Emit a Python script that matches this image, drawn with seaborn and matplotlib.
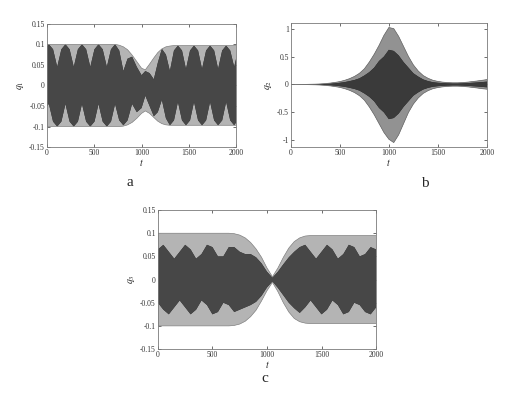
import pandas as pd
import matplotlib
matplotlib.use("Agg")
import matplotlib.pyplot as plt
import seaborn as sns


# -----------------------------
# DATA (envelopes)
# -----------------------------
x_ticks = [0, 500, 1000, 1500, 2000]
x_tick_labels = ["0", "500", "1000", "1500", "2000"]

small_ticks = [-0.15, -0.1, -0.05, 0, 0.05, 0.1, 0.15]
small_tick_labels = ["-0.15", "-0.1", "-0.05", "0", "0.05", "0.1", "0.15"]
big_ticks = [-1, -0.5, 0, 0.5, 1]
big_tick_labels = ["-1", "-0.5", "0", "0.5", "1"]

# panel a: q1
t_a = [0, 20, 64, 108, 152, 195, 239, 283, 327, 370, 414, 458, 502, 545, 589,
       633, 677, 720, 764, 808, 852, 900, 950, 1000, 1040, 1085, 1130, 1172,
       1215, 1258, 1300, 1343, 1385, 1428, 1470, 1513, 1555, 1598, 1640, 1683,
       1725, 1768, 1810, 1853, 1895, 1938, 1980, 2000]
q1_up = [0.1] * 18 + [0.098, 0.094, 0.087, 0.074, 0.058, 0.042, 0.038, 0.052,
                      0.067, 0.08, 0.089, 0.094, 0.096] + [0.097] * 17
q1_lo = [-0.1] * 19 + [-0.099, -0.096, -0.09, -0.08, -0.068, -0.062, -0.068,
                       -0.078, -0.087, -0.093, -0.096, -0.097] + [-0.097] * 17
q1_dark_up = [0.095, 0.1, 0.088, 0.045, 0.088, 0.1, 0.088, 0.045, 0.088, 0.1,
              0.088, 0.045, 0.088, 0.1, 0.088, 0.045, 0.088, 0.1, 0.085, 0.035,
              0.065, 0.07, 0.045, 0.025, 0.035, 0.03, 0.015, 0.055, 0.089, 0.075,
              0.035, 0.085, 0.097, 0.085, 0.04, 0.085, 0.097, 0.085, 0.04, 0.085,
              0.097, 0.085, 0.04, 0.085, 0.097, 0.085, 0.045, 0.065]
q1_dark_lo = [-0.05, -0.045, -0.088, -0.1, -0.088, -0.045, -0.088, -0.1, -0.088,
              -0.045, -0.088, -0.1, -0.088, -0.045, -0.088, -0.1, -0.088, -0.045,
              -0.085, -0.097, -0.085, -0.045, -0.065, -0.055, -0.025, -0.05,
              -0.075, -0.065, -0.035, -0.08, -0.097, -0.085, -0.04, -0.085,
              -0.097, -0.085, -0.04, -0.085, -0.097, -0.085, -0.04, -0.085,
              -0.097, -0.085, -0.04, -0.085, -0.097, -0.09]

# panel b: q2  (t every 50)
t_b = list(range(0, 2001, 50))
q2_up = [0.0, 0.0, 0.001, 0.002, 0.004, 0.006, 0.01, 0.016, 0.025, 0.037,
         0.052, 0.075, 0.105, 0.145, 0.2, 0.28, 0.4, 0.54, 0.7, 0.88,
         1.02, 1.0, 0.86, 0.68, 0.5, 0.35, 0.24, 0.16, 0.11, 0.075,
         0.055, 0.042, 0.034, 0.03, 0.03, 0.034, 0.042, 0.052, 0.063, 0.075,
         0.088]
q2_lo = [0.0, 0.0, -0.001, -0.002, -0.004, -0.006, -0.01, -0.016, -0.025, -0.037,
         -0.052, -0.075, -0.105, -0.145, -0.2, -0.28, -0.4, -0.54, -0.7, -0.86,
         -0.98, -1.04, -0.9, -0.7, -0.5, -0.35, -0.24, -0.16, -0.11, -0.075,
         -0.055, -0.042, -0.034, -0.03, -0.03, -0.034, -0.042, -0.052, -0.063,
         -0.075, -0.085]
q2_dark = [0.0, 0.0, 0.0005, 0.001, 0.002, 0.003, 0.006, 0.009, 0.014, 0.02,
           0.03, 0.042, 0.06, 0.08, 0.11, 0.16, 0.22, 0.3, 0.42, 0.5,
           0.62, 0.6, 0.52, 0.4, 0.3, 0.2, 0.14, 0.09, 0.06, 0.04,
           0.03, 0.024, 0.019, 0.017, 0.017, 0.019, 0.024, 0.03, 0.036, 0.043,
           0.05]

# panel c: q3  (t every 50)
t_c = list(range(0, 2001, 50))
q3_up = [0.1] * 14 + [0.099, 0.096, 0.09, 0.08, 0.066, 0.048, 0.025, 0.006,
                      0.025, 0.048, 0.068, 0.082, 0.09, 0.094] + [0.095] * 13
q3_lo = [-0.1] * 14 + [-0.099, -0.096, -0.09, -0.08, -0.066, -0.046, -0.024,
                       -0.006, -0.026, -0.05, -0.07, -0.084, -0.091,
                       -0.094] + [-0.095] * 13
q3_dark_up = [0.065, 0.075, 0.06, 0.045, 0.06, 0.075, 0.065, 0.045, 0.055,
              0.075, 0.07, 0.05, 0.05, 0.07, 0.07, 0.06, 0.055, 0.055, 0.048,
              0.035, 0.017, 0.004, 0.017, 0.033, 0.048, 0.06, 0.07, 0.075,
              0.06, 0.045, 0.06, 0.075, 0.065, 0.045, 0.055, 0.075, 0.07,
              0.05, 0.055, 0.07, 0.065]
q3_dark_lo = [-0.05, -0.065, -0.075, -0.06, -0.045, -0.06, -0.075, -0.065,
              -0.045, -0.055, -0.075, -0.07, -0.05, -0.055, -0.07, -0.065,
              -0.06, -0.055, -0.048, -0.035, -0.017, -0.004, -0.018, -0.034,
              -0.05, -0.062, -0.072, -0.06, -0.045, -0.06, -0.075, -0.065,
              -0.045, -0.055, -0.075, -0.07, -0.05, -0.055, -0.07, -0.075,
              -0.06]


# -----------------------------
# STYLE
# -----------------------------
sns.set_style("ticks")
plt.rcParams["font.family"] = ["Liberation Serif", "DejaVu Serif"]
plt.rcParams["mathtext.fontset"] = "stix"
plt.rcParams["hatch.linewidth"] = 0.35


def draw_signal(ax, t, up, lo, dark_up, dark_lo, light="#8c8c8c",
                light_hatch="#b4b4b4", dark="#2c2c2c", dark_hatch="#474747"):
    df = pd.DataFrame({"t": t, "up": up, "lo": lo,
                       "dup": dark_up, "dlo": dark_lo})
    ax.fill_between(df["t"], df["lo"], df["up"], facecolor=light,
                    edgecolor=light_hatch, hatch="|" * 40, linewidth=0)
    ax.fill_between(df["t"], df["dlo"], df["dup"], facecolor=dark,
                    edgecolor=dark_hatch, hatch="|" * 40, linewidth=0)
    sns.lineplot(data=df, x="t", y="up", ax=ax, color=light, lw=0.5)
    sns.lineplot(data=df, x="t", y="lo", ax=ax, color=light, lw=0.5)


def style_axes(ax, ylim, yticks, ylabels, ylabel):
    ax.set_xlim(0, 2000)
    ax.set_ylim(*ylim)
    ax.set_xticks(x_ticks)
    ax.set_xticklabels(x_tick_labels)
    ax.set_yticks(yticks)
    ax.set_yticklabels(ylabels)
    ax.tick_params(direction="in", top=True, right=True, length=2.5,
                   width=0.5, labelsize=5.5, pad=1.5, colors="#333333")
    for s in ax.spines.values():
        s.set_color("#7a7a7a")
        s.set_linewidth(0.6)
    ax.set_xlabel("$t$", fontsize=7, labelpad=0)
    ax.set_ylabel(ylabel, fontsize=7, labelpad=2)


fig = plt.figure(figsize=(5.11, 4.04), dpi=100)

ax_a = fig.add_axes([0.092, 0.636, 0.370, 0.305])
draw_signal(ax_a, t_a, q1_up, q1_lo, q1_dark_up, q1_dark_lo)
style_axes(ax_a, (-0.15, 0.15), small_ticks, small_tick_labels, "$q_1$")

ax_b = fig.add_axes([0.569, 0.636, 0.384, 0.307])
draw_signal(ax_b, t_b, q2_up, q2_lo, q2_dark, [-v for v in q2_dark],
            light="#6e6e6e", light_hatch="#929292",
            dark="#1e1e1e", dark_hatch="#3a3a3a")
style_axes(ax_b, (-1.12, 1.1), big_ticks, big_tick_labels, "$q_2$")

ax_c = fig.add_axes([0.309, 0.136, 0.427, 0.344])
draw_signal(ax_c, t_c, q3_up, q3_lo, q3_dark_up, q3_dark_lo)
style_axes(ax_c, (-0.15, 0.15), small_ticks, small_tick_labels, "$q_3$")

fig.text(0.254, 0.548, "a", fontsize=11, ha="center", va="center")
fig.text(0.832, 0.545, "b", fontsize=11, ha="center", va="center")
fig.text(0.519, 0.062, "c", fontsize=11, ha="center", va="center")

fig.savefig("out.png", dpi=100, facecolor="white")
